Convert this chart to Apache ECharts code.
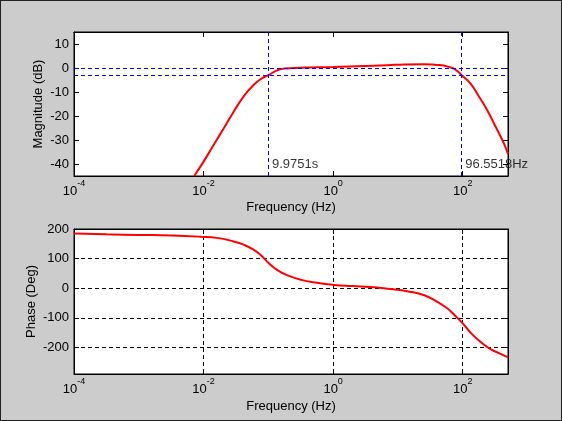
<!DOCTYPE html>
<html>
<head>
<meta charset="utf-8">
<script src="https://cdn.jsdelivr.net/npm/echarts@6/dist/echarts.min.js"></script>
<style>
  html, body { margin: 0; padding: 0; background: #cccccc; }
  #chart { position: absolute; left: 0; top: 0; width: 562px; height: 421px; }
  #frame { position: absolute; left: 0; top: 0; width: 562px; height: 421px;
           box-sizing: border-box; border: 1px solid #222; pointer-events: none; }
</style>
</head>
<body>
<div id="chart"></div>
<div id="frame"></div>
<script>
// Bode plot (magnitude + phase)

// magnitude curve
const magFreq = [0.00716, 0.01, 0.0142, 0.0204, 0.029, 0.0414, 0.059, 0.0796, 0.1, 0.136,
  0.178, 0.316, 1, 3.16, 6.8, 12.3, 25, 40, 51, 69, 83, 96.6, 132, 177, 239, 321, 432, 500];
const magDb = [-45, -39, -32.2, -25.2, -18.3, -11.9, -7.1, -4.3, -3.0, -1.0,
  -0.2, 0.1, 0.4, 0.8, 1.1, 1.5, 1.6, 1.3, 1.0, 0.0, -1.3, -3.0, -6.5, -11.8, -17.6, -24.4, -31.4, -35.8];

// phase curve
const phaseFreq = [0.0001, 0.000316, 0.001, 0.00316, 0.00887, 0.016, 0.029, 0.0414, 0.059, 0.0796,
  0.1007, 0.136, 0.194, 0.311, 0.564, 1.02, 2, 3.76, 7.66, 13.9,
  25, 40.4, 57.5, 77.4, 100, 132, 188, 269, 384, 500];
const phaseDeg = [185, 182, 180, 178, 174, 170, 158, 147, 130, 108,
  85, 62, 44, 29, 18, 11, 7, 4, -3, -10,
  -23, -46, -68, -94, -119, -150, -181, -206, -222, -234];

// axes
const freqMin = 1e-4;
const freqMax = 500;
const freqTickExp = [-4, -2, 0, 2];
const magRange = [-45, 15];
const magTicks = [-40, -30, -20, -10, 0, 10];
const phaseRange = [-290, 200];
const phaseTicks = [-200, -100, 0, 100, 200];

// -3 dB markers
const refLevelsDb = [0, -3];
const cutoffFreq = [0.10025, 96.5518];
const cutoffText = ['9.9751s', '96.5518Hz'];
const cutoffTextDb = -40;

const FONT = "'Liberation Sans', Arial, sans-serif";
const BLUE = '#0000ff';
const lg = Math.log10;

function pairs(xs, ys) {
  return xs.map((f, i) => [lg(f), ys[i]]);
}

function freqAxis(gridIndex, position, name, nameGap, grid) {
  const main = position === 'bottom';
  return {
    type: 'value', gridIndex, position,
    min: lg(freqMin), max: lg(freqMax),
    name: main ? name : '', nameLocation: 'middle', nameGap, nameMoveOverlap: false,
    nameTextStyle: { color: '#000', fontSize: 13, fontFamily: FONT },
    axisLine: { show: true, onZero: false, lineStyle: { color: '#000', width: 1 } },
    axisTick: { show: true, inside: true, length: 5, customValues: freqTickExp,
                lineStyle: { color: '#000' } },
    axisLabel: {
      show: main, customValues: freqTickExp, margin: 3,
      formatter: v => '{b|10}{s|' + v + '}',
      rich: {
        b: { fontSize: 13, lineHeight: 24, color: '#000', fontFamily: FONT },
        s: { fontSize: 9, lineHeight: 10, verticalAlign: 'top', color: '#000', fontFamily: FONT }
      }
    },
    splitLine: { show: main && grid, lineStyle: { color: '#000', width: 1, type: [4, 3] } }
  };
}

function valAxis(gridIndex, position, range, ticks, name, nameGap, grid) {
  const main = position === 'left';
  return {
    type: 'value', gridIndex, position,
    min: range[0], max: range[1],
    name: main ? name : '', nameLocation: 'middle', nameGap, nameMoveOverlap: false,
    nameTextStyle: { color: '#000', fontSize: 13, fontFamily: FONT },
    axisLine: { show: true, onZero: false, lineStyle: { color: '#000', width: 1 } },
    axisTick: { show: true, inside: true, length: 5, customValues: ticks,
                lineStyle: { color: '#000' } },
    axisLabel: { show: main, customValues: ticks, margin: 5,
                 color: '#000', fontSize: 13, fontFamily: FONT },
    splitLine: { show: main && grid, lineStyle: { color: '#000', width: 1, type: [4, 3] } }
  };
}

const redLine = { color: '#ff0000', width: 2 };
const blueDash = { color: BLUE, width: 1, type: [4, 3], opacity: 1 };

const option = {
  animation: false,
  backgroundColor: '#cccccc',
  grid: [
    { left: 74, top: 32, width: 434, height: 144, show: true,
      backgroundColor: '#fff', borderColor: '#000', borderWidth: 1 },
    { left: 74, top: 229, width: 434, height: 145, show: true,
      backgroundColor: '#fff', borderColor: '#000', borderWidth: 1 }
  ],
  xAxis: [
    freqAxis(0, 'bottom', 'Frequency (Hz)', 25, false),
    freqAxis(0, 'top', '', 0, false),
    freqAxis(1, 'bottom', 'Frequency (Hz)', 26, true),
    freqAxis(1, 'top', '', 0, true)
  ],
  yAxis: [
    valAxis(0, 'left', magRange, magTicks, 'Magnitude (dB)', 29, false),
    valAxis(0, 'right', magRange, magTicks, '', 0, false),
    valAxis(1, 'left', phaseRange, phaseTicks, 'Phase (Deg)', 36, true),
    valAxis(1, 'right', phaseRange, phaseTicks, '', 0, true)
  ],
  series: [
    {
      name: 'Magnitude', type: 'line', xAxisIndex: 0, yAxisIndex: 0,
      data: pairs(magFreq, magDb),
      showSymbol: false, smooth: 0.5, clip: true,
      lineStyle: redLine, itemStyle: { color: '#ff0000' },
      markLine: {
        silent: true, symbol: ['none', 'none'], label: { show: false },
        lineStyle: blueDash,
        data: [
          ...refLevelsDb.map(v => ({ yAxis: v, lineStyle: blueDash })),
          ...cutoffFreq.map(f => ({ xAxis: lg(f), lineStyle: blueDash }))
        ]
      },
      z: 3
    },
    {
      name: 'Cutoff', type: 'scatter', xAxisIndex: 0, yAxisIndex: 0,
      symbolSize: 1, itemStyle: { color: 'rgba(0,0,0,0)' },
      data: cutoffFreq.map((f, i) => ({ value: [lg(f), cutoffTextDb], name: cutoffText[i] })),
      label: { show: true, position: 'right', distance: 3, formatter: '{b}',
               color: '#000', fontSize: 13, fontFamily: FONT },
      z: 4
    },
    {
      name: 'Phase', type: 'line', xAxisIndex: 2, yAxisIndex: 2,
      data: pairs(phaseFreq, phaseDeg),
      showSymbol: false, smooth: 0.5, clip: true,
      lineStyle: redLine, itemStyle: { color: '#ff0000' },
      z: 3
    }
  ]
};

const chart = echarts.init(document.getElementById('chart'), null, { renderer: 'canvas' });
chart.setOption(option);
</script>
</body>
</html>
